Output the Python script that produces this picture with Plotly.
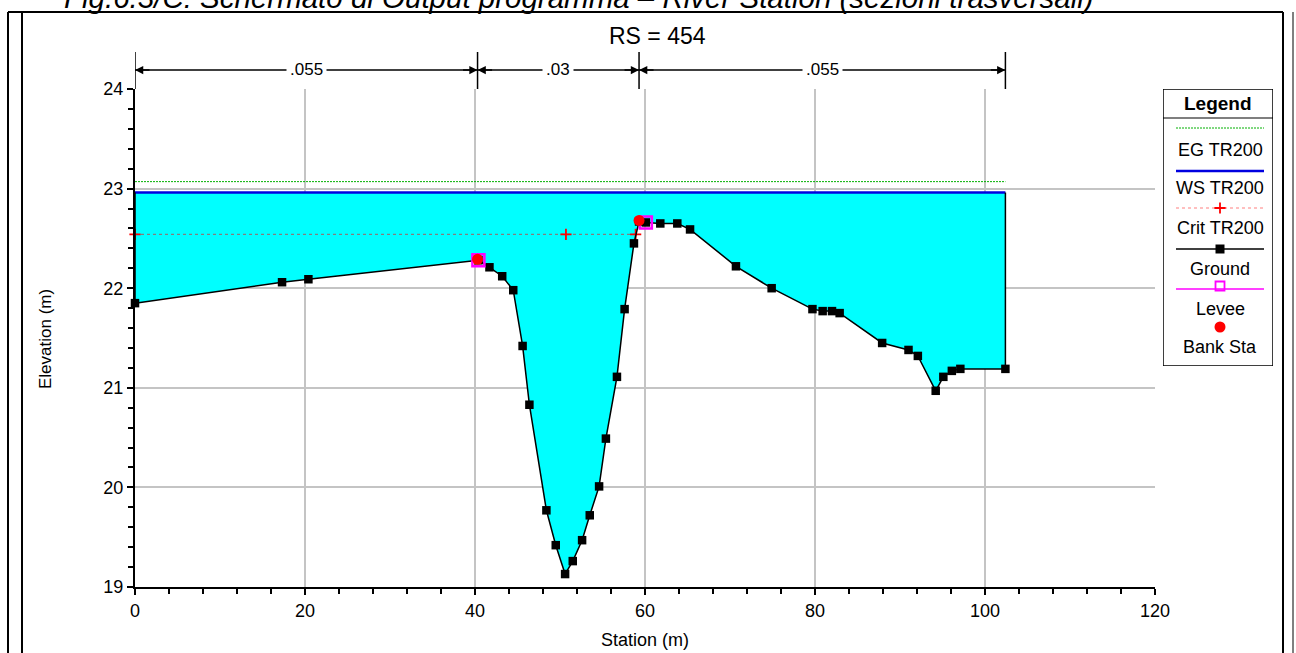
import plotly.graph_objects as go

# ---------------- data ----------------
station = [0, 17.3, 20.4, 40.4, 41.7, 43.2, 44.5, 45.6, 46.4, 48.4, 49.5, 50.6,
           51.5, 52.6, 53.5, 54.6, 55.4, 56.7, 57.6, 58.7, 59.3, 60.1, 61.8, 63.8,
           65.3, 70.7, 74.9, 79.7, 80.9, 82.0, 82.9, 87.9, 91.0, 92.1, 94.2, 95.1,
           96.1, 97.1, 102.4]
elevation = [21.85, 22.06, 22.09, 22.28, 22.21, 22.12, 21.98, 21.42, 20.83, 19.77,
             19.42, 19.13, 19.26, 19.47, 19.72, 20.01, 20.49, 21.11, 21.79, 22.45,
             22.67, 22.66, 22.65, 22.65, 22.59, 22.22, 22.00, 21.79, 21.77, 21.77,
             21.75, 21.45, 21.38, 21.32, 20.97, 21.11, 21.17, 21.19, 21.19]
ws_elev = 22.96
eg_elev = 23.07
crit_elev = 22.54
crit_station = [0, 50.7, 58.9]
levee_station = [40.4, 60.1]
levee_elev = [22.28, 22.66]
bank_station = [40.3, 59.3]
bank_elev = [22.29, 22.68]
n_bounds = [0, 40.3, 59.3, 102.4]
n_values = [".055", ".03", ".055"]
legend_labels = ["EG TR200", "WS TR200", "Crit TR200", "Ground", "Levee", "Bank Sta"]
x_ticks = [0, 20, 40, 60, 80, 100, 120]
y_ticks = [19, 20, 21, 22, 23, 24]

# ---------------- helpers ----------------
W, H = 1296, 653
FONT = "Arial, 'Liberation Sans', sans-serif"
CRIT_COLOR = "rgba(255,0,0,0.5)"
EG_COLOR = "#00B000"
EG_DASH = "2px,1px"


def px(x):
    return x / W


def py(y):
    return 1 - y / H


x_start, x_end = station[0], station[-1]

fig = go.Figure()

# water fill
fig.add_trace(go.Scatter(
    x=station + [x_end, x_start], y=elevation + [ws_elev, ws_elev],
    fill="toself", fillcolor="#00FFFF", mode="lines", line=dict(width=0),
    hoverinfo="skip", showlegend=False))

# EG line
fig.add_trace(go.Scatter(x=[x_start, x_end], y=[eg_elev, eg_elev], mode="lines",
                         line=dict(color=EG_COLOR, width=1, dash=EG_DASH),
                         showlegend=False))
# WS line
fig.add_trace(go.Scatter(x=[x_start, x_end], y=[ws_elev, ws_elev], mode="lines",
                         line=dict(color="#0000E0", width=2.5), showlegend=False))
# Crit line
fig.add_trace(go.Scatter(x=crit_station, y=[crit_elev] * len(crit_station),
                         mode="lines", line=dict(color=CRIT_COLOR, width=1.2, dash="dot"),
                         cliponaxis=False, showlegend=False))
fig.add_trace(go.Scatter(x=crit_station, y=[crit_elev] * len(crit_station),
                         mode="markers",
                         marker=dict(symbol="cross-thin", size=8,
                                     line=dict(color="#FF0000", width=1.8)),
                         cliponaxis=False, showlegend=False))
# end walls
fig.add_trace(go.Scatter(x=[x_end, x_end], y=[elevation[-1], ws_elev], mode="lines",
                         line=dict(color="black", width=1.5), showlegend=False))
fig.add_trace(go.Scatter(x=[x_start, x_start], y=[elevation[0], ws_elev], mode="lines",
                         line=dict(color="black", width=1.5), showlegend=False))
# Ground
fig.add_trace(go.Scatter(x=station, y=elevation, mode="lines+markers",
                         line=dict(color="black", width=1.5),
                         marker=dict(symbol="square", size=8.5, color="black"),
                         cliponaxis=False, showlegend=False))
# Levee
fig.add_trace(go.Scatter(x=levee_station, y=levee_elev, mode="markers",
                         marker=dict(symbol="square-open", size=12, color="#FF00FF",
                                     line=dict(color="#FF00FF", width=2.5)),
                         cliponaxis=False, showlegend=False))
# Bank stations
fig.add_trace(go.Scatter(x=bank_station, y=bank_elev, mode="markers",
                         marker=dict(symbol="circle", size=11, color="#FF0000"),
                         cliponaxis=False, showlegend=False))

# ---------------- legend (own axis) ----------------
LX0, LX1 = 13, 101
LC = 57
leg_rows = [39, 82, 119, 160, 200, 238]
lbl_rows = [61, 99, 139, 180, 220, 258]

fig.add_trace(go.Scatter(x=[LX0, LX1], y=[leg_rows[0]] * 2, mode="lines", xaxis="x2", yaxis="y2",
                         line=dict(color=EG_COLOR, width=1, dash=EG_DASH), showlegend=False))
fig.add_trace(go.Scatter(x=[LX0, LX1], y=[leg_rows[1]] * 2, mode="lines", xaxis="x2", yaxis="y2",
                         line=dict(color="#0000E0", width=2.5), showlegend=False))
fig.add_trace(go.Scatter(x=[LX0, LX1], y=[leg_rows[2]] * 2, mode="lines", xaxis="x2", yaxis="y2",
                         line=dict(color=CRIT_COLOR, width=1.2, dash="dot"), showlegend=False))
fig.add_trace(go.Scatter(x=[LC], y=[leg_rows[2]], mode="markers", xaxis="x2", yaxis="y2",
                         marker=dict(symbol="cross-thin", size=8,
                                     line=dict(color="#FF0000", width=1.8)), showlegend=False))
fig.add_trace(go.Scatter(x=[LX0, LC, LX1], y=[leg_rows[3]] * 3, mode="lines", xaxis="x2", yaxis="y2",
                         line=dict(color="black", width=1.5), showlegend=False))
fig.add_trace(go.Scatter(x=[LC], y=[leg_rows[3]], mode="markers", xaxis="x2", yaxis="y2",
                         marker=dict(symbol="square", size=9, color="black"), showlegend=False))
fig.add_trace(go.Scatter(x=[LX0, LX1], y=[leg_rows[4]] * 2, mode="lines", xaxis="x2", yaxis="y2",
                         line=dict(color="#FF00FF", width=1.5), showlegend=False))
fig.add_trace(go.Scatter(x=[LC], y=[leg_rows[4] - 3], mode="markers", xaxis="x2", yaxis="y2",
                         marker=dict(symbol="square-open", size=9, color="#FF00FF",
                                     line=dict(color="#FF00FF", width=1.8)), showlegend=False))
fig.add_trace(go.Scatter(x=[LC], y=[leg_rows[5]], mode="markers", xaxis="x2", yaxis="y2",
                         marker=dict(symbol="circle", size=11, color="#FF0000"), showlegend=False))

annotations = []
shapes = []

annotations.append(dict(x=55, y=14, xref="x2", yref="y2", text="<b>Legend</b>",
                        xanchor="center", yanchor="middle",
                        showarrow=False, font=dict(size=19, family=FONT, color="black")))
for lab, yy in zip(legend_labels, lbl_rows):
    annotations.append(dict(x=LC, y=yy, xref="x2", yref="y2", text=lab, showarrow=False,
                            xanchor="center", yanchor="middle",
                            font=dict(size=18, family=FONT, color="black")))
shapes.append(dict(type="rect", xref="x2", yref="y2", x0=0, x1=110, y0=0, y1=277,
                   line=dict(color="black", width=1.5)))
shapes.append(dict(type="line", xref="x2", yref="y2", x0=0, x1=113, y0=29, y1=29,
                   line=dict(color="black", width=1.2)))

# ---------------- n-value dimension lines ----------------
DIM_Y = py(70)
for xb in n_bounds:
    shapes.append(dict(type="line", xref="x", yref="paper", x0=xb, x1=xb,
                       y0=py(89), y1=py(52), line=dict(color="black", width=1.5)))
for i, val in enumerate(n_values):
    a, b = n_bounds[i], n_bounds[i + 1]
    shapes.append(dict(type="line", xref="x", yref="paper", x0=a, x1=b,
                       y0=DIM_Y, y1=DIM_Y, line=dict(color="black", width=1.5)))
    annotations.append(dict(x=a, y=DIM_Y, xref="x", yref="paper", text="", showarrow=True,
                            ax=16, ay=0, arrowhead=2, arrowsize=1.1, arrowwidth=1.5,
                            arrowcolor="black", standoff=0))
    annotations.append(dict(x=b, y=DIM_Y, xref="x", yref="paper", text="", showarrow=True,
                            ax=-16, ay=0, arrowhead=2, arrowsize=1.1, arrowwidth=1.5,
                            arrowcolor="black", standoff=0))
    annotations.append(dict(x=(a + b) / 2, y=DIM_Y, xref="x", yref="paper", text=val,
                            xanchor="center", yanchor="middle",
                            showarrow=False, bgcolor="white", borderpad=3,
                            font=dict(size=17, family=FONT, color="black")))

# ---------------- texts ----------------
annotations.append(dict(x=px(657), y=py(36), xref="paper", yref="paper", text="RS = 454",
                        xanchor="center", yanchor="middle",
                        showarrow=False, font=dict(size=23, family=FONT, color="black")))
annotations.append(dict(x=px(45), y=py(339), xref="paper", yref="paper", text="Elevation (m)",
                        xanchor="center", yanchor="middle",
                        textangle=-90, showarrow=False,
                        font=dict(size=17, family=FONT, color="black")))
annotations.append(dict(x=px(645), y=py(640), xref="paper", yref="paper", text="Station (m)",
                        xanchor="center", yanchor="middle",
                        showarrow=False, font=dict(size=18, family=FONT, color="black")))
annotations.append(dict(x=px(62), y=py(16), xref="paper", yref="paper", xanchor="left",
                        yanchor="bottom",
                        text="<i>Fig.6.3/C: Schermato di Output programma – River Station (sezioni trasversali)</i>",
                        showarrow=False, font=dict(size=29.5, family=FONT, color="black")))

# ---------------- outer frame ----------------
frame = dict(color="black", width=2)
shapes += [
    dict(type="line", xref="paper", yref="paper", x0=px(8), x1=px(1283), y0=py(12), y1=py(12), line=frame),
    dict(type="line", xref="paper", yref="paper", x0=px(8), x1=px(8), y0=py(12), y1=0, line=frame),
    dict(type="line", xref="paper", yref="paper", x0=px(22), x1=px(22), y0=py(12), y1=0, line=frame),
    dict(type="line", xref="paper", yref="paper", x0=px(1283), x1=px(1283), y0=py(12), y1=0, line=frame),
    dict(type="line", xref="paper", yref="paper", x0=px(1293), x1=px(1293), y0=py(12), y1=0,
         line=dict(color="black", width=1)),
]

tickfont = dict(size=18, family=FONT, color="black")
fig.update_layout(
    width=W, height=H,
    margin=dict(l=0, r=0, t=0, b=0),
    paper_bgcolor="white", plot_bgcolor="white",
    showlegend=False,
    xaxis=dict(domain=[px(135), px(1155)], range=[0, 120], tickvals=x_ticks,
               showgrid=True, gridcolor="#c4c4c4", gridwidth=1.5,
               showline=True, linecolor="black", linewidth=2,
               ticks="outside", ticklen=6, tickwidth=1.5, tickcolor="black",
               minor=dict(dtick=4, ticks="outside", ticklen=5, tickwidth=1.5,
                          tickcolor="black", showgrid=False),
               zeroline=False, tickfont=tickfont, automargin=False, fixedrange=True),
    yaxis=dict(domain=[py(587), py(89)], range=[19, 24], tickvals=y_ticks,
               showgrid=True, gridcolor="#c4c4c4", gridwidth=1.5,
               showline=True, linecolor="black", linewidth=2,
               ticks="outside", ticklen=6, tickwidth=1.5, tickcolor="black",
               minor=dict(dtick=0.2, ticks="outside", ticklen=5, tickwidth=1.5,
                          tickcolor="black", showgrid=False),
               zeroline=False, tickfont=tickfont, automargin=False, fixedrange=True),
    xaxis2=dict(domain=[px(1163), px(1273)], range=[0, 110], visible=False,
                anchor="y2", fixedrange=True),
    yaxis2=dict(domain=[py(366), py(89)], range=[277, 0], visible=False,
                anchor="x2", fixedrange=True),
    annotations=annotations,
    shapes=shapes,
)

fig.write_html("out.html", config={"displayModeBar": False},
               post_script="document.body.style.margin='0px';document.body.style.overflow='hidden';")
